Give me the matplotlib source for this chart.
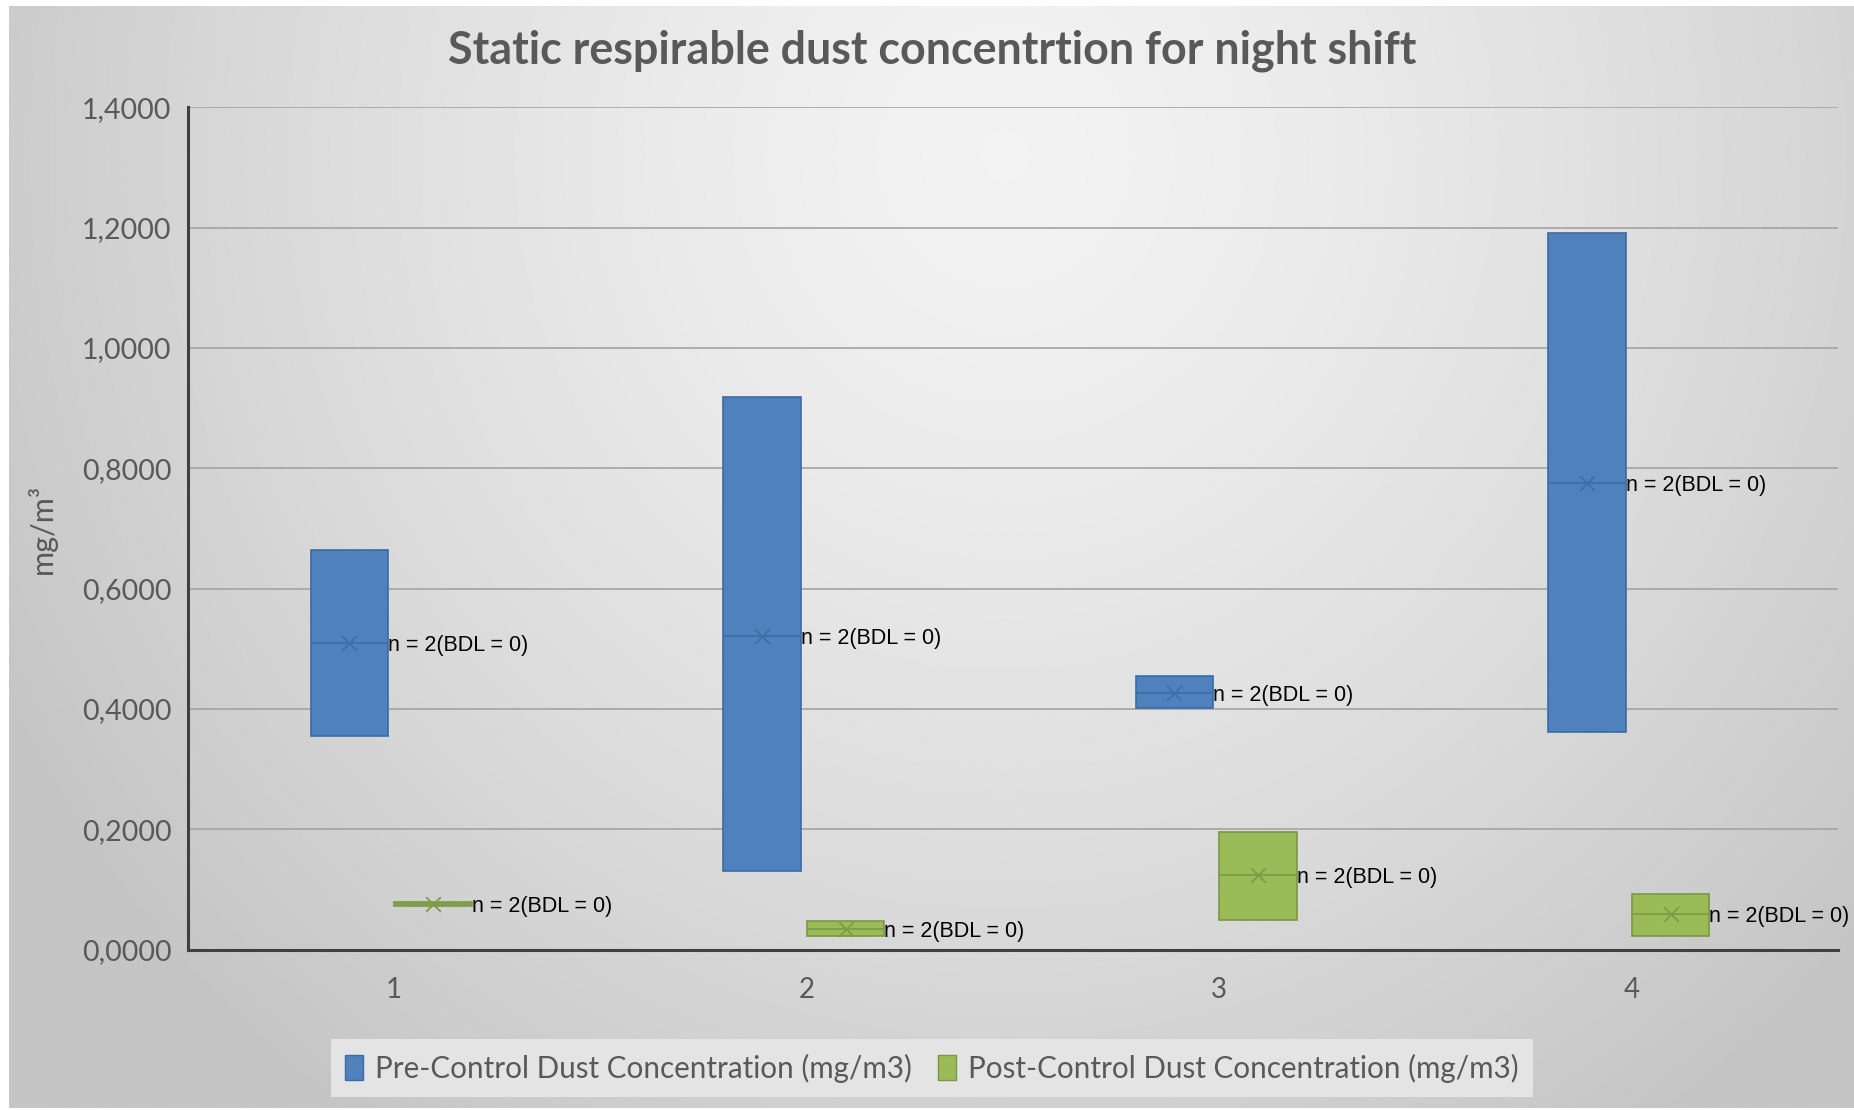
import numpy as np
import matplotlib.pyplot as plt
from matplotlib.patches import Patch
from matplotlib.ticker import FuncFormatter

# shift number and the two box-plot series (mg/m3), n = 2 samples each
shifts = ['1', '2', '3', '4']
pre_low = [0.355, 0.130, 0.401, 0.362]
pre_high = [0.664, 0.919, 0.454, 1.192]
pre_mid = [0.509, 0.521, 0.427, 0.775]
post_low = [0.0725, 0.0231, 0.0500, 0.0231]
post_high = [0.0785, 0.0475, 0.1950, 0.0919]
post_mid = [0.0753, 0.0342, 0.1233, 0.0587]
point_label = 'n = 2(BDL = 0)'

series = [
    ('Pre-Control Dust Concentration (mg/m3)', pre_low, pre_high, pre_mid,
     -0.109, '#4F81BD', '#3B6BA5', '#3F6FA6'),
    ('Post-Control Dust Concentration (mg/m3)', post_low, post_high, post_mid,
     0.094, '#9BBB59', '#7A9743', '#7E9C48'),
]
box_w = 0.188

W, H = 1854, 1110
fig = plt.figure(figsize=(W / 100, H / 100), dpi=100, facecolor='white')

# radial grey backdrop
bg = fig.add_axes([9 / W, 2 / H, 1 - 9 / W, 1 - 8 / H], zorder=-10)
yy, xx = np.mgrid[0:H:2, 0:W:2]
r = np.hypot((xx - 1000) * 1.05, yy - 150)
shade = 0.95 - 0.18 * np.clip(r / 1200, 0, 1) ** 1.4
bg.imshow(shade, cmap='gray', vmin=0, vmax=1, aspect='auto', interpolation='bilinear')
bg.axis('off')

ax = fig.add_axes([188 / W, 1 - 949.6 / H, 1650 / W, (949.6 - 107.4) / H])
ax.patch.set_alpha(0)

x = np.arange(1, len(shifts) + 1)
handles = []
for name, low, high, mid, off, fc, ec, mc in series:
    low = np.array(low)
    high = np.array(high)
    xs = x + off
    ax.bar(xs, high - low, width=box_w, bottom=low, color=fc, edgecolor=ec,
           linewidth=1.2, zorder=3)
    ax.hlines(mid, xs - box_w / 2, xs + box_w / 2, color=mc, lw=1.3, zorder=4)
    ax.scatter(xs, mid, marker='x', s=110, color=mc, linewidths=1.3, zorder=5)
    for xi, m in zip(xs, mid):
        ax.text(xi + box_w / 2, m - 0.004, point_label, ha='left', va='center',
                fontsize=15.5, family='Liberation Sans', color='black', zorder=6)
    handles.append(Patch(facecolor=fc, edgecolor=ec, label=name))

ax.set_xlim(0.5, 4.5)
ax.set_ylim(0, 1.4)
ax.set_xticks(x)
ax.set_xticklabels(shifts)
ax.set_yticks(np.arange(0, 1.41, 0.2))
ax.yaxis.set_major_formatter(FuncFormatter(lambda v, p: f'{v:.4f}'.replace('.', ',')))
ax.grid(axis='y', color='#a3a3a3', lw=1.2, zorder=0)
ax.set_axisbelow(True)
for s in ['top', 'right']:
    ax.spines[s].set_visible(False)
for s in ['left', 'bottom']:
    ax.spines[s].set_color('#404040')
    ax.spines[s].set_linewidth(2.2)
ax.tick_params(axis='y', length=0, pad=12, labelsize=20.5, labelcolor='#595959')
ax.tick_params(axis='x', length=0, pad=20, labelsize=20, labelcolor='#595959')
for lab in ax.get_xticklabels() + ax.get_yticklabels():
    lab.set_family('Lato')

ax.set_ylabel('mg/m³', fontsize=22, family='Lato', color='#595959')
ax.yaxis.set_label_coords(-0.0794, 0.5)

fig.text(932 / W, 1 - 51 / H, 'Static respirable dust concentrtion for night shift',
         ha='center', va='center', fontsize=32.3, weight='bold', family='Lato',
         color='#595959')

leg = fig.legend(handles=handles, loc='center', bbox_to_anchor=(932 / W, 1 - 1068 / H),
                 ncol=2, frameon=True, fancybox=False, facecolor='#e4e4e4',
                 edgecolor='none', framealpha=1, handlelength=0.6, handleheight=0.9,
                 handletextpad=0.4, columnspacing=0.9, borderpad=0.5,
                 borderaxespad=0.3, prop={'family': 'Lato', 'size': 21.3})
for t in leg.get_texts():
    t.set_color('#595959')

fig.savefig('out.png', dpi=100)
